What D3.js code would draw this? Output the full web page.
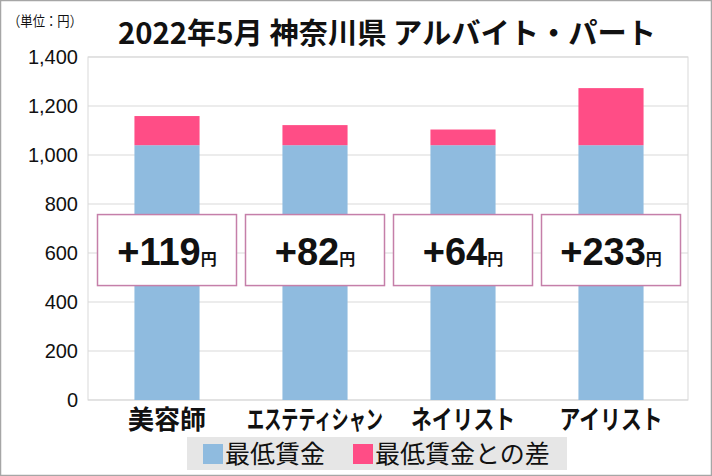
<!DOCTYPE html>
<html lang="ja">
<head>
<meta charset="utf-8">
<title>2022年5月 神奈川県 アルバイト・パート</title>
<script src="https://cdn.jsdelivr.net/npm/d3@7"></script>
<style>
  body { margin: 0; background: #fff; }
  text { font-family: "Liberation Sans", "Noto Sans CJK JP", sans-serif; fill: #111; }
  .jp { font-family: "Noto Sans CJK JP", sans-serif; }
</style>
</head>
<body>
<script>
// data
var categories = ["美容師", "エステティシャン", "ネイリスト", "アイリスト"];
var minWage = [1040, 1040, 1040, 1040];
var diff = [119, 82, 64, 233];
var yTicks = [0, 200, 400, 600, 800, 1000, 1200, 1400];
var seriesNames = ["最低賃金", "最低賃金との差"];

var w = 712, h = 476;
var blue = "#8fbbdf", pink = "#ff4d86";

var svg = d3.select("body").append("svg").attr("width", w).attr("height", h);

// outer frame
svg.append("rect").attr("x", 0.5).attr("y", 0.5).attr("width", w - 1).attr("height", h - 1)
  .attr("fill", "white").attr("stroke", "#a6a6a6").attr("stroke-width", 1.5);

var plotL = 88, plotR = 688, plotT = 57, plotB = 400;

var x = d3.scaleBand().domain(categories).range([93, 685]).paddingInner(0.56).paddingOuter(0.28);
var y = d3.scaleLinear().domain([0, 1400]).range([plotB, plotT]);

// plot border + gridlines
svg.append("rect").attr("x", plotL).attr("y", plotT).attr("width", plotR - plotL).attr("height", plotB - plotT)
  .attr("fill", "none").attr("stroke", "#d9d9d9");
svg.append("g").selectAll("line").data(yTicks).join("line")
  .attr("x1", plotL).attr("x2", plotR)
  .attr("y1", d => y(d)).attr("y2", d => y(d))
  .attr("stroke", "#d9d9d9").attr("stroke-width", 1);

// y axis labels
svg.append("g").selectAll("text").data(yTicks).join("text")
  .attr("x", 78).attr("y", d => y(d)).attr("dy", "0.36em")
  .attr("text-anchor", "end").style("font-size", "20px")
  .text(d => d3.format(",")(d));

svg.append("text").attr("class", "jp").attr("x", 8).attr("y", 26)
  .style("font-size", "14px").attr("textLength", 74).attr("lengthAdjust", "spacingAndGlyphs")
  .text("（単位：円）");

// stacked bars
var stackData = categories.map((c, i) => ({cat: c, base: minWage[i], diff: diff[i]}));
var stacked = d3.stack().keys(["base", "diff"])(stackData);
var colors = {base: blue, diff: pink};

svg.append("g").selectAll("g").data(stacked).join("g")
  .attr("fill", d => colors[d.key])
  .selectAll("rect").data(d => d).join("rect")
  .attr("x", d => x(d.data.cat))
  .attr("width", x.bandwidth())
  .attr("y", d => y(d[1]))
  .attr("height", d => y(d[0]) - y(d[1]));

// difference boxes
var boxW = 139, boxH = 71, boxCy = y(612);
var boxes = svg.append("g").selectAll("g").data(stackData).join("g")
  .attr("transform", d => "translate(" + (x(d.cat) + x.bandwidth() / 2) + "," + boxCy + ")");
boxes.append("rect").attr("x", -boxW / 2).attr("y", -boxH / 2).attr("width", boxW).attr("height", boxH)
  .attr("fill", "white").attr("stroke", "#c57fa9").attr("stroke-width", 1.5);
var lbl = boxes.append("text").attr("text-anchor", "middle").attr("y", 15);
lbl.append("tspan").style("font-size", "38px").style("font-weight", "bold")
  .text(d => "+" + d.diff);
lbl.append("tspan").attr("class", "jp").style("font-size", "16px").style("font-weight", "bold").text("円");

// category labels (katakana ones are squeezed horizontally like the original)
svg.append("g").selectAll("text").data(categories).join("text")
  .attr("class", "jp")
  .attr("text-anchor", "middle").style("font-size", "26px").style("font-weight", "bold")
  .text(d => d)
  .attr("transform", function (d) {
    var cx = x(d) + x.bandwidth() / 2, k = 1;
    if (/^[\u30A0-\u30FF]+$/.test(d)) k = Math.min(0.8, 136 / this.getComputedTextLength());
    return "translate(" + cx + ",429) scale(" + k + ",1)";
  });

// title
svg.append("text").attr("class", "jp").attr("x", 387).attr("y", 44)
  .attr("text-anchor", "middle").style("font-size", "29px").style("font-weight", "bold")
  .attr("textLength", 538).attr("lengthAdjust", "spacingAndGlyphs")
  .text("2022年5月 神奈川県 アルバイト・パート");

// legend
var lg = svg.append("g");
lg.append("rect").attr("x", 187).attr("y", 437).attr("width", 380).attr("height", 33).attr("fill", "#e6e6e6");
var items = lg.selectAll("g").data(seriesNames).join("g")
  .attr("transform", (d, i) => "translate(" + (i === 0 ? 203 : 353) + ",454)");
items.append("rect").attr("x", 0).attr("y", -10).attr("width", 20).attr("height", 20)
  .attr("fill", (d, i) => i === 0 ? blue : pink);
items.append("text").attr("class", "jp").attr("x", 22).attr("dy", "0.36em")
  .style("font-size", "25px").text(d => d);
</script>
</body>
</html>
